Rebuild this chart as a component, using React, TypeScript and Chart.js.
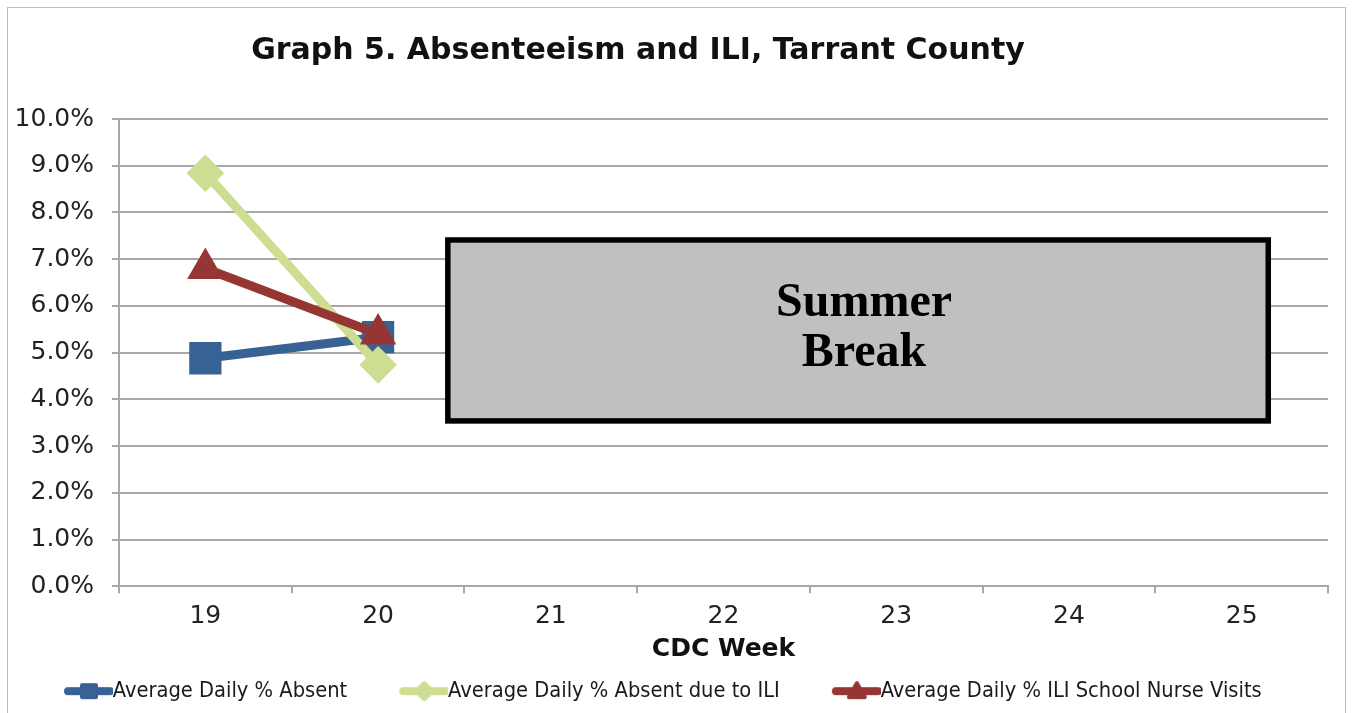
import React, { useEffect, useRef } from 'react';
import { Chart, registerables } from 'chart.js';

Chart.register(...registerables);

// ---- data ----
const weeks = ['19', '20', '21', '22', '23', '24', '25'];
const absentPct = [4.88, 5.33, null, null, null, null, null];
const absentIliPct = [8.84, 4.74, null, null, null, null, null];
const nurseIliPct = [6.8, 5.4, null, null, null, null, null];
const seriesNames = [
  'Average Daily % Absent',
  'Average Daily % Absent due to ILI',
  'Average Daily % ILI School Nurse Visits',
];
const chartTitle = 'Graph 5. Absenteeism and ILI, Tarrant County';
const xAxisTitle = 'CDC Week';
const noteLines = ['Summer', 'Break'];
// annotation box, in axis units (category index / percent)
const noteBox = { x0: 1.388, x1: 6.17, y0: 3.48, y1: 7.47 };

const BLUE = 'rgb(56,97,148)';
const GREEN = 'rgb(205,222,146)';
const RED = 'rgb(150,54,52)';
const GRID = '#a8a8a8';

const LEG_BOX = 78;
const LEG_FONT = 21.7;

function makeLegendIcon(kind: string, color: string): HTMLCanvasElement {
  const W = Math.round(LEG_BOX + LEG_FONT); // drawn centred in the box, right edge at text start
  const H = 24;
  const c = document.createElement('canvas');
  c.width = W;
  c.height = H;
  const ctx = c.getContext('2d')!;
  const cy = H / 2;
  const x0 = W - 48;
  ctx.strokeStyle = color;
  ctx.fillStyle = color;
  ctx.lineCap = 'round';
  ctx.lineWidth = 8;
  ctx.beginPath();
  ctx.moveTo(x0 + 3, cy);
  ctx.lineTo(W - 3, cy);
  ctx.stroke();
  const cx = x0 + 24;
  ctx.lineJoin = 'round';
  ctx.lineWidth = 4;
  ctx.beginPath();
  if (kind === 'rect') {
    ctx.rect(cx - 7, cy - 6, 14, 12);
  } else if (kind === 'diamond') {
    ctx.moveTo(cx, cy - 8);
    ctx.lineTo(cx + 8, cy);
    ctx.lineTo(cx, cy + 8);
    ctx.lineTo(cx - 8, cy);
    ctx.closePath();
  } else {
    ctx.moveTo(cx, cy - 8);
    ctx.lineTo(cx + 8, cy + 6);
    ctx.lineTo(cx - 8, cy + 6);
    ctx.closePath();
  }
  ctx.fill();
  ctx.stroke();
  return c;
}

const frameAndTitle = {
  id: 'frameAndTitle',
  beforeDraw(chart: any) {
    const { ctx, width, height } = chart;
    ctx.save();
    ctx.fillStyle = '#ffffff';
    ctx.fillRect(0, 0, width, height);
    ctx.strokeStyle = '#bdbdbd';
    ctx.lineWidth = 1;
    ctx.strokeRect(7.5, 7.5, 1338, height + 20);
    ctx.restore();
  },
  afterDraw(chart: any) {
    const { ctx } = chart;
    ctx.save();
    ctx.fillStyle = '#111111';
    ctx.font = 'bold 30px "DejaVu Sans"';
    ctx.textAlign = 'center';
    ctx.textBaseline = 'alphabetic';
    ctx.fillText(chartTitle, 638, 59);
    ctx.restore();
  },
};

const summerBox = {
  id: 'summerBox',
  afterDatasetsDraw(chart: any) {
    const { ctx, scales } = chart;
    const xs = scales.x;
    const ys = scales.y;
    const lw = 5.5;
    const left = xs.getPixelForValue(noteBox.x0) + lw / 2;
    const right = xs.getPixelForValue(noteBox.x1) - lw / 2;
    const top = ys.getPixelForValue(noteBox.y1) + lw / 2;
    const bottom = ys.getPixelForValue(noteBox.y0) - lw / 2;
    ctx.save();
    ctx.fillStyle = '#c0c0c0';
    ctx.fillRect(left, top, right - left, bottom - top);
    ctx.strokeStyle = '#000000';
    ctx.lineWidth = lw;
    ctx.strokeRect(left, top, right - left, bottom - top);
    ctx.fillStyle = '#000000';
    ctx.font = 'bold 48px "Liberation Serif"';
    ctx.textAlign = 'center';
    ctx.textBaseline = 'alphabetic';
    const cx = (left + right) / 2 + 6;
    const midY = (top + bottom) / 2;
    ctx.fillText(noteLines[0], cx, midY - 14);
    ctx.fillText(noteLines[1], cx, midY + 36);
    ctx.restore();
  },
};

export default function App() {
  const ref = useRef<HTMLCanvasElement | null>(null);

  useEffect(() => {
    if (!ref.current) return;
    const icons = [
      makeLegendIcon('rect', BLUE),
      makeLegendIcon('diamond', GREEN),
      makeLegendIcon('triangle', RED),
    ];
    const common = {
      borderWidth: 9,
      tension: 0,
      pointBorderWidth: 4,
      pointHoverRadius: 0,
      spanGaps: false,
    };
    const chart = new Chart(ref.current, {
      type: 'line',
      data: {
        labels: weeks,
        datasets: [
          {
            ...common,
            label: seriesNames[0],
            data: absentPct,
            borderColor: BLUE,
            backgroundColor: BLUE,
            pointBackgroundColor: BLUE,
            pointBorderColor: BLUE,
            pointStyle: 'rect',
            pointRadius: 20,
            order: 3,
          },
          {
            ...common,
            label: seriesNames[1],
            data: absentIliPct,
            borderColor: GREEN,
            backgroundColor: GREEN,
            pointBackgroundColor: GREEN,
            pointBorderColor: GREEN,
            pointStyle: 'rectRot',
            pointRadius: 16,
            order: 2,
          },
          {
            ...common,
            label: seriesNames[2],
            data: nurseIliPct,
            borderColor: RED,
            backgroundColor: RED,
            pointBackgroundColor: RED,
            pointBorderColor: RED,
            pointStyle: 'triangle',
            pointRadius: 17,
            order: 1,
          },
        ] as any,
      },
      options: {
        animation: false,
        responsive: false,
        events: [],
        layout: { padding: { top: 119, left: 12, right: 24, bottom: 1 } },
        scales: {
          x: {
            type: 'category',
            offset: true,
            grid: {
              display: true,
              drawOnChartArea: false,
              drawTicks: true,
              tickLength: 7,
              offset: true,
              color: GRID,
              lineWidth: 2,
            },
            border: { display: true, color: GRID, width: 2 },
            ticks: {
              color: '#222222',
              font: { family: '"DejaVu Sans"', size: 25 },
              padding: 8,
              maxRotation: 0,
            },
            title: {
              display: true,
              text: xAxisTitle,
              color: '#111111',
              font: { family: '"DejaVu Sans"', size: 25, weight: 'bold', lineHeight: 1.0 },
              padding: { top: -2, bottom: 6 },
            },
          },
          y: {
            min: 0,
            max: 10,
            afterFit(scale: any) {
              scale.width = 107;
            },
            grid: {
              color: GRID,
              lineWidth: 2,
              drawTicks: true,
              tickLength: 7,
            },
            border: { display: true, color: GRID, width: 2 },
            ticks: {
              stepSize: 1,
              color: '#222222',
              font: { family: '"DejaVu Sans"', size: 25 },
              padding: 18,
              callback: (v: any) => Number(v).toFixed(1) + '%',
            },
          },
        },
        plugins: {
          title: { display: false },
          tooltip: { enabled: false },
          legend: {
            display: true,
            position: 'bottom',
            align: 'start',
            labels: {
              usePointStyle: true,
              pointStyleWidth: LEG_BOX,
              padding: 12,
              color: '#1a1a1a',
              font: { family: '"DejaVu Sans Condensed"', size: LEG_FONT },
              generateLabels(ch: any) {
                const items = Chart.defaults.plugins.legend.labels.generateLabels(ch);
                items.sort((a: any, b: any) => a.datasetIndex - b.datasetIndex);
                return items.map((it: any) => ({
                  ...it,
                  pointStyle: icons[it.datasetIndex],
                  rotation: 0,
                }));
              },
            },
          },
        },
      } as any,
      plugins: [frameAndTitle, summerBox],
    });
    return () => chart.destroy();
  }, []);

  return (
    <div style={{ position: 'absolute', left: 0, top: 0, width: 1352, height: 713 }}>
      <canvas ref={ref} width={1352} height={713} style={{ display: 'block' }} />
    </div>
  );
}
